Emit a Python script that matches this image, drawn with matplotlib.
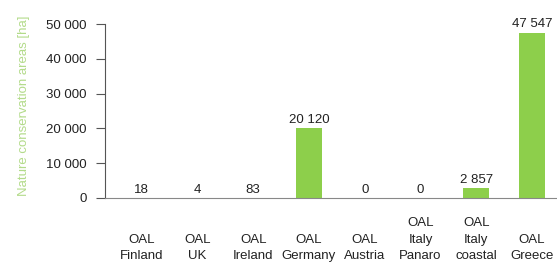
import matplotlib.pyplot as plt
import numpy as np

plt.rcParams['font.family'] = ['Liberation Sans', 'DejaVu Sans']

# data
sites = ['OAL\nFinland', 'OAL\nUK', 'OAL\nIreland', 'OAL\nGermany', 'OAL\nAustria',
         'OAL\nItaly\nPanaro', 'OAL\nItaly\ncoastal', 'OAL\nGreece']
areas = [18, 4, 83, 20120, 0, 0, 2857, 47547]
yticks = [0, 10000, 20000, 30000, 40000, 50000]

fmt = lambda v: '{:,}'.format(v).replace(',', ' ')

fig = plt.figure(figsize=(5.57, 2.64), dpi=100)
ax = fig.add_axes([0.1885, 0.25, 0.8115, 0.659])

x = np.arange(len(sites))
ax.bar(x, areas, width=0.46, color='#8dcf4b')

for xi, v in zip(x, areas):
    ax.text(xi, v + 600, fmt(v), ha='center', va='bottom', fontsize=9.5, color='#222222', clip_on=False)

for xi, s in zip(x, sites):
    ax.text(xi, -0.37, s, ha='center', va='bottom', fontsize=9.5, color='#222222',
            linespacing=1.5, transform=ax.get_xaxis_transform())

ax.set_xlim(-0.66, 7.45)
ax.set_ylim(0, 50000)
ax.set_yticks(yticks)
ax.set_yticklabels([fmt(t) for t in yticks], fontsize=9.5, color='#222222')
ax.set_xticks([])
ax.tick_params(axis='y', length=6.5, width=0.8, color='#555555', pad=6.5)

for s in ['top', 'right']:
    ax.spines[s].set_visible(False)
ax.spines['left'].set_color('#555555')
ax.spines['bottom'].set_color('#888888')
ax.spines['left'].set_linewidth(0.8)
ax.spines['bottom'].set_linewidth(0.8)

ax.set_ylabel('Nature conservation areas [ha]', fontsize=9.5, color='#b3db8a')
ax.yaxis.set_label_coords(-0.165, 0.53)

plt.savefig('out.png', dpi=100)
